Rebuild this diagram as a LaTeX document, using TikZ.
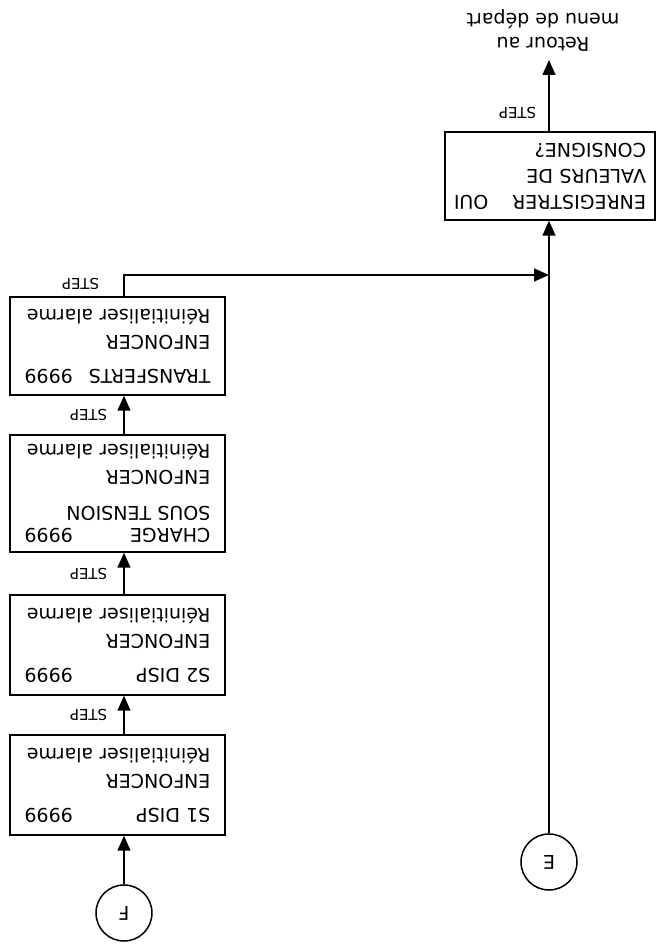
\documentclass[tikz,border=0pt]{standalone}
\usepackage{fontspec}
\setmainfont{DejaVu Sans}
\usetikzlibrary{arrows.meta}

\begin{document}
\begin{tikzpicture}[
    bloc/.style={draw, line width=0.75pt, minimum width=107.5pt, text width=93pt,
        align=left, inner sep=0pt, font=\fontsize{9.5}{13}\selectfont},
    rond/.style={draw, circle, line width=0.75pt, minimum size=28pt, inner sep=0pt,
        font=\fontsize{9.5}{10}\selectfont},
    etiq/.style={inner sep=0pt, font=\fontsize{7.5}{8}\selectfont},
    fleche/.style={line width=0.8pt, -{Triangle[length=7.5pt,width=6.5pt]}}
]
  % le schema est dessine a l'endroit puis retourne
  \begin{scope}[x=0.5pt, y=0.5pt, rotate=180, transform shape]
    \useasboundingbox (0,0) rectangle (657,-947);

    % colonne de droite
    \node[rond] (F) at (533,-34) {F};
    \node[bloc, minimum height=50pt] (s1) at (539.5,-162)
        {S1 DISP\hfill 9999\\[4pt] ENFONCER\\ Réinitialiser alarme};
    \node[bloc, minimum height=50pt] (s2) at (539.5,-302)
        {S2 DISP\hfill 9999\\[4pt] ENFONCER\\ Réinitialiser alarme};
    \node[bloc, minimum height=58.5pt] (charge) at (539.5,-453.5)
        {CHARGE\hfill 9999\hspace{4pt}\\[-2pt] SOUS TENSION\\[5pt] ENFONCER\\ Réinitialiser alarme};
    \node[bloc, minimum height=49pt] (transf) at (539.5,-601)
        {TRANSFERTS\hfill 9999\\[4pt] ENFONCER\\ Réinitialiser alarme};
    \coordinate (coin) at (533,-672);

    \draw[fleche] (F) -- (F |- s1.north);
    \draw[fleche] (F |- s1.south) -- node[etiq, right=8pt] {STEP} (F |- s2.north);
    \draw[fleche] (F |- s2.south) -- node[etiq, right=8pt] {STEP} (F |- charge.north);
    \draw[fleche] (F |- charge.south) -- node[etiq, right=8pt] {STEP} (F |- transf.north);

    % colonne de gauche
    \node[rond] (E) at (108,-85) {E};
    \node[bloc, minimum width=105pt, text width=96pt, minimum height=44pt] (enreg) at (107,-771)
        {ENREGISTRER\hfill OUI\\ VALEURS DE\\ CONSIGNE?};
    \coordinate (ret) at (108,-887);

    \draw[fleche] (F |- transf.south) -- node[etiq, right=12pt, pos=0.6] {STEP} (coin) -- (coin -| E);
    \draw[fleche] (E) -- (E |- enreg.north);
    \draw[fleche] (E |- enreg.south) -- node[etiq, right=6pt, pos=0.25] {STEP} (ret);

    \node[align=center, font=\fontsize{9.5}{12}\selectfont] (retour) at (114,-917)
        {Retour au\\menu de départ};
  \end{scope}
\end{tikzpicture}
\end{document}
